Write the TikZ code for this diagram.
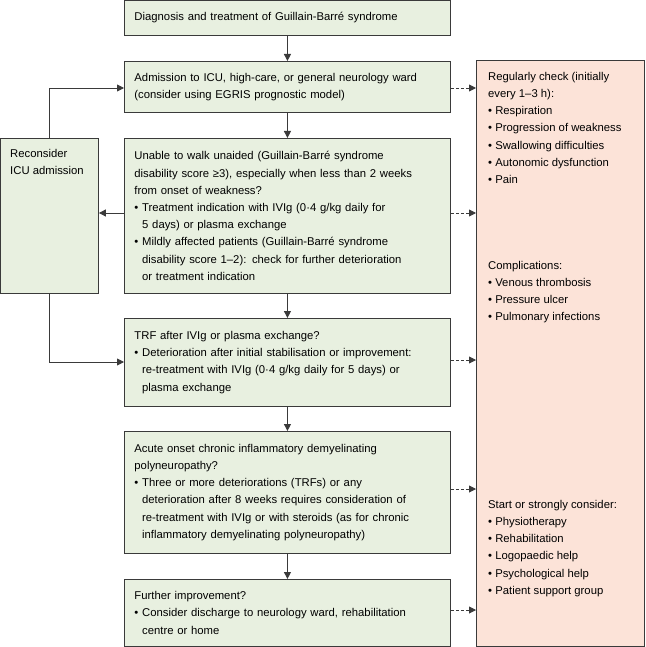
\documentclass[tikz,border=0pt]{standalone}
\usepackage{fontspec}
\setmainfont{Liberation Sans}
\usetikzlibrary{arrows.meta}
\definecolor{gfill}{HTML}{E8F0E0}
\definecolor{pfill}{HTML}{FCE3D8}
\definecolor{edge}{HTML}{3A3A3A}
\begin{document}
\begin{tikzpicture}[x=1pt,y=-1pt,
 box/.style={draw=edge,line width=0.9pt,fill=gfill,anchor=north west,align=left,inner xsep=10pt,inner ysep=0pt,font=\fontsize{11.3}{17.2}\selectfont},
 pbox/.style={box,fill=pfill},
 txt/.style={anchor=north west,align=left,font=\fontsize{11.3}{17.2}\selectfont,inner sep=0pt},
 arr/.style={-{Triangle[length=7pt,width=7pt]},line width=0.9pt,color=edge},
 darr/.style={arr,densely dashed}]
\useasboundingbox (0,0) rectangle (645,647);
\node[box,text width=306pt,minimum width=326pt,minimum height=35pt] (b1) at (124,0) {Diagnosis and treatment of Guillain-Barré syndrome};
\node[box,text width=306pt,minimum width=326pt,minimum height=51pt] (b2) at (124,61) {Admission to ICU, high-care, or general neurology ward\\(consider using EGRIS prognostic model)};
\node[box,text width=306pt,minimum width=326pt,minimum height=155pt] (b3) at (124,138) {Unable to walk unaided (Guillain-Barré syndrome\\disability score ≥3), especially when less than 2 weeks\\from onset of weakness?\\• Treatment indication with IVIg (0·4 g/kg daily for\\\phantom{• }5 days) or plasma exchange\\• Mildly affected patients (Guillain-Barré syndrome\\\phantom{• }disability score 1–2): check for further deterioration\\\phantom{• }or treatment indication};
\node[box,text width=306pt,minimum width=326pt,minimum height=88pt] (b4) at (124,318) {TRF after IVIg or plasma exchange?\\• Deterioration after initial stabilisation or improvement:\\\phantom{• }re-treatment with IVIg (0·4 g/kg daily for 5 days) or\\\phantom{• }plasma exchange};
\node[box,text width=306pt,minimum width=326pt,minimum height=122pt] (b5) at (124,431) {Acute onset chronic inflammatory demyelinating\\polyneuropathy?\\• Three or more deteriorations (TRFs) or any\\\phantom{• }deterioration after 8 weeks requires consideration of\\\phantom{• }re-treatment with IVIg or with steroids (as for chronic\\\phantom{• }inflammatory demyelinating polyneuropathy)};
\node[box,text width=306pt,minimum width=326pt,minimum height=67pt] (b6) at (124,579) {Further improvement?\\• Consider discharge to neurology ward, rehabilitation\\\phantom{• }centre or home};
\node[box,text width=78pt,minimum width=98pt,minimum height=155pt] (lb) at (0,138) {};
\node[txt] (lbt) at (10,149) {Reconsider\\ICU admission};
\node[pbox,minimum width=168pt,minimum height=586pt] (pb) at (476,60) {};
\node[txt] (p1) at (488,72) {Regularly check (initially\\every 1–3 h):\\• Respiration\\• Progression of weakness\\• Swallowing difficulties\\• Autonomic dysfunction\\• Pain};
\node[txt] (p2) at (488,261) {Complications:\\• Venous thrombosis\\• Pressure ulcer\\• Pulmonary infections};
\node[txt] (p3) at (488,500) {Start or strongly consider:\\• Physiotherapy\\• Rehabilitation\\• Logopaedic help\\• Psychological help\\• Patient support group};
\draw[arr] (b1) -- (b2);
\draw[arr] (b2) -- (b3);
\draw[arr] (b3) -- (b4);
\draw[arr] (b4) -- (b5);
\draw[arr] (b5) -- (b6);
\draw[arr] (b3.west |- 0,213) -- (lb.east |- 0,213);
\draw[arr] (lb.north -| 49,0) |- (b2.west |- 0,88);
\draw[arr] (lb.south -| 49,0) |- (b4.west |- 0,362);
\coordinate (d1) at (476,88);
\coordinate (d2) at (476,213);
\coordinate (d3) at (476,360);
\coordinate (d4) at (476,489);
\coordinate (d5) at (476,610);
\draw[darr] (b2.east |- d1) -- (d1);
\draw[darr] (b3.east |- d2) -- (d2);
\draw[darr] (b4.east |- d3) -- (d3);
\draw[darr] (b5.east |- d4) -- (d4);
\draw[darr] (b6.east |- d5) -- (d5);
\end{tikzpicture}
\end{document}
